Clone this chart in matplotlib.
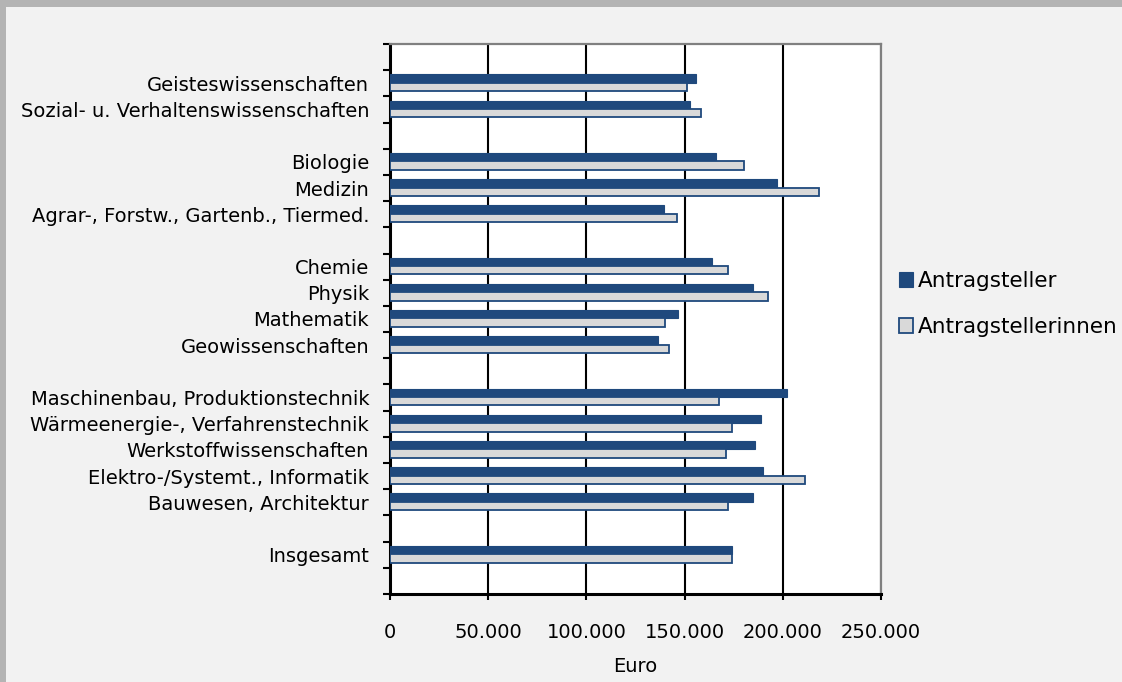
import matplotlib
matplotlib.use("Agg")
import matplotlib.pyplot as plt
from matplotlib.patches import Rectangle
import numpy as np

plt.rcParams["font.family"] = ["DejaVu Sans"]

# Categories from top to bottom; empty strings are spacer rows between groups
categories = [
    "",
    "Geisteswissenschaften",
    "Sozial- u. Verhaltenswissenschaften",
    "",
    "Biologie",
    "Medizin",
    "Agrar-, Forstw., Gartenb., Tiermed.",
    "",
    "Chemie",
    "Physik",
    "Mathematik",
    "Geowissenschaften",
    "",
    "Maschinenbau, Produktionstechnik",
    "Wärmeenergie-, Verfahrenstechnik",
    "Werkstoffwissenschaften",
    "Elektro-/Systemt., Informatik",
    "Bauwesen, Architektur",
    "",
    "Insgesamt",
    "",
]

antragsteller = [
    None, 155800, 152800, None, 166000, 197200, 139300, None,
    164000, 184700, 146500, 136300, None,
    202100, 188900, 185800, 189700, 184700, None, 174100, None,
]
antragstellerinnen = [
    None, 151400, 158500, None, 180400, 218600, 146100, None,
    171900, 192700, 140000, 142200, None,
    167700, 174000, 170900, 211100, 171900, None, 174000, None,
]

xticks = [0, 50000, 100000, 150000, 200000, 250000]
xtick_labels = ["0", "50.000", "100.000", "150.000", "200.000", "250.000"]

series_labels = ["Antragsteller", "Antragstellerinnen"]
dark_blue = "#1f497d"
light_gray = "#d9d9d9"
fs = 14

fig = plt.figure(figsize=(11.22, 6.82), dpi=100, facecolor="#f2f2f2")
W, H = 1122, 682
ax = fig.add_axes([390 / W, 1 - 594 / H, (881 - 390) / W, (594 - 44) / H])
ax.set_facecolor("white")

# Grey frame strips along the left and top edges
fig.patches.append(Rectangle((0, 0), 6 / W, 1, transform=fig.transFigure,
                             facecolor="#b4b4b4", edgecolor="none", zorder=0))
fig.patches.append(Rectangle((0, 1 - 7 / H), 1, 7 / H, transform=fig.transFigure,
                             facecolor="#b4b4b4", edgecolor="none", zorder=0))

n = len(categories)
pos = np.arange(n)
bh = 0.32
idx = [i for i, v in enumerate(antragsteller) if v is not None]
m_vals = [antragsteller[i] for i in idx]
f_vals = [antragstellerinnen[i] for i in idx]
m_pos = np.array(idx) - bh / 2 - 0.02
f_pos = np.array(idx) + bh / 2 - 0.02

b1 = ax.barh(m_pos, m_vals, height=bh, color=dark_blue, edgecolor=dark_blue,
             linewidth=0.8, zorder=3, label=series_labels[0])
b2 = ax.barh(f_pos, f_vals, height=bh, color=light_gray, edgecolor=dark_blue,
             linewidth=1.3, zorder=3, label=series_labels[1])

ax.set_ylim(n - 0.5, -0.5)
ax.set_xlim(0, 250000)

ax.set_yticks(pos)
ax.set_yticklabels(categories, fontsize=fs)
ax.set_yticks(np.arange(-0.5, n, 1.0), minor=True)
ax.tick_params(axis="y", which="major", length=0, pad=15)
ax.tick_params(axis="y", which="minor", length=5, width=1.5, direction="out", color="black")

ax.set_xticks(xticks)
ax.set_xticklabels(xtick_labels, fontsize=fs)
ax.tick_params(axis="x", length=4, width=1.5, direction="out", pad=17, color="black")
ax.set_xlabel("Euro", fontsize=fs, labelpad=11)

ax.grid(axis="x", color="black", linewidth=1.5, zorder=0)
ax.set_axisbelow(True)

ax.spines["left"].set_color("black")
ax.spines["left"].set_linewidth(2.2)
ax.spines["bottom"].set_color("black")
ax.spines["bottom"].set_linewidth(2.2)
ax.spines["top"].set_color("#808080")
ax.spines["top"].set_linewidth(1.6)
ax.spines["right"].set_color("#808080")
ax.spines["right"].set_linewidth(1.6)

leg = fig.legend(handles=[b1, b2], labels=series_labels, loc="center left",
                 bbox_to_anchor=(899 / W, 1 - 304 / H), fontsize=15.5,
                 frameon=False, handlelength=0.65, handleheight=0.65,
                 handletextpad=0.22, labelspacing=1.2, borderpad=0, borderaxespad=0)

fig.savefig("out.png", dpi=100, facecolor=fig.get_facecolor())
